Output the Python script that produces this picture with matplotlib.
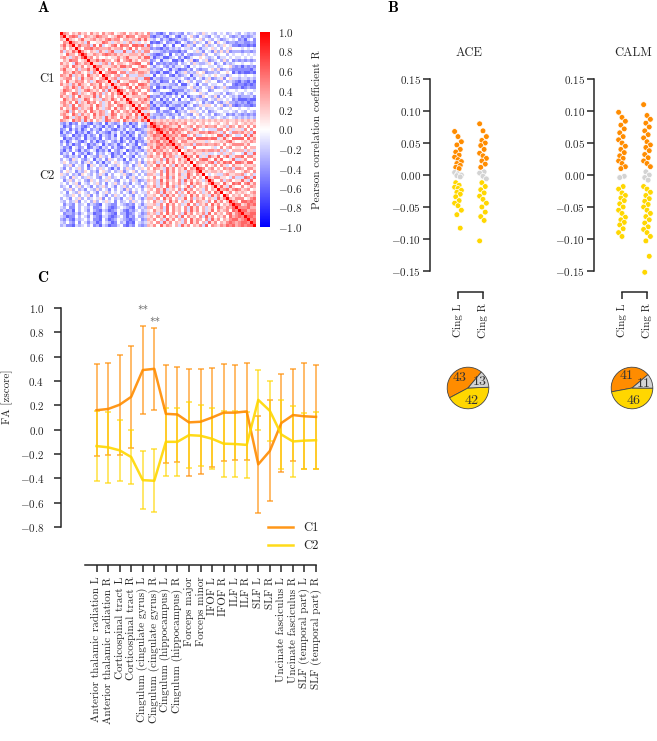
import numpy as np
import matplotlib

matplotlib.use("Agg")
import matplotlib.pyplot as plt
from matplotlib.lines import Line2D
from matplotlib.ticker import FuncFormatter

plt.rcParams["font.family"] = ["cmr10", "DejaVu Serif"]
plt.rcParams["mathtext.fontset"] = "cm"
plt.rcParams["axes.unicode_minus"] = False
plt.rcParams["font.size"] = 8

W, H = 657, 741
INK = "#262626"
ORANGE = "#ff8c00"
YELLOW = "#ffd700"
GREY = "#d3d3d3"

# ---- panel A: correlation matrix, lower triangle as quantised levels ----
LEVELS = [-0.6, -0.45, -0.3, -0.15, 0.0, 0.15, 0.3, 0.45, 0.6, 0.75]
N_C1 = 30
N_C2 = 35
C1_ROWS = [
    "7", "65", "476", "6857", "57465", "736586", "5486647", "67536758",
    "465877456", "7564386576", "56748657465", "685547366857",
    "4765867546375", "76583657486564", "567746385675467",
    "6485576746358765", "75637586547658465", "467586375647586736",
    "5876463578656473856", "67458736546857364758",
    "756374856658374657465", "4865763587465376586475",
    "67574836586746357486557", "576384765574863576478656",
    "7465873656847536748576465", "56837465748657634857467586",
    "675486375648576358746567485", "4785367586475638576475865736",
    "76548673857465387567486576586",
]
C2_BETWEEN = [
    "213021423103214032124130214325", "302142310241320312403213024216",
    "124031302413204231023142301235", "031240213024132103241302143126",
    "213402130312403213042130241325", "402131240321304213240312031246",
    "130243102413021342130241302135", "241302143021340312302413204216",
    "312043124013203241310243120345", "203142031243021304213402132136",
    "132404213024132430213042313425", "421323140432153240231432042336",
    "243153421340324153423041324245", "354232413524130324534213425136",
    "423514324053423143254324135425", "314243524134253420314253243546",
    "245341325423145324235134524235", "532423154324253142443521342426",
    "324153423534214352342413524345", "413524342153423534214342531236",
    "342435143243524143524231432425", "234143524314235243143524243136",
    "423524231432524314243152434245", "341432543243143524342431524336",
    "432354243514243142534243143425", "243143524234351424231435243136",
    "324235143425243534142342534245", "413214234132104321143212143135",
    "324114243241124310134321042326", "231204243142103201243102134235",
    "412213134230114321042201243126", "320114243142103310134202142235",
    "213103234241104201243210134126", "324214143132014320142301043235",
    "231103234241203201134102142126",
]
C2_WITHIN = [
    "", "8", "67", "758", "6876", "57687", "768576", "6578687", "75867566",
    "586756476", "6475867564", "75648576356", "465738564756",
    "5736485746575", "64857463857464", "476538574658476",
    "5647385746537658", "65374856473586475", "474658374653857464",
    "5638475647385746536", "46375846573648576457",
    "573648573645837465746", "6475835647385746537465",
    "45738564736485746357486", "564738574636485746538574",
    "6374857463584736574653857", "47536485746358476537485746",
    "563748574635847365748574657", "6457384756473857463574865768",
    "47563847564738574635847567487", "563748574638574657384756478578",
    "6475846573847564738574657486787", "57463857463748576473857465788678",
    "647385746537485746385746578767887", "5748576463857465738476576878678788",
]
CBAR_TICKS = [-1.0, -0.8, -0.6, -0.4, -0.2, 0.0, 0.2, 0.4, 0.6, 0.8, 1.0]

# ---- panel B: per-subject values, cingulum L / R ----
ACE_L = [0.068, 0.060, 0.052, 0.047, 0.040, 0.036, 0.031, 0.028, 0.024,
         0.021, 0.018, 0.015, 0.012, 0.010, 0.004, 0.002, 0.000, -0.001,
         -0.003, -0.012, -0.016, -0.019, -0.021, -0.024, -0.027, -0.030,
         -0.034, -0.040, -0.044, -0.048, -0.055, -0.062, -0.083]
ACE_R = [0.080, 0.069, 0.060, 0.054, 0.050, 0.046, 0.040, 0.034, 0.030,
         0.026, 0.022, 0.017, 0.012, 0.005, 0.003, -0.002, -0.006, -0.012,
         -0.018, -0.023, -0.028, -0.033, -0.038, -0.044, -0.050, -0.058,
         -0.065, -0.071, -0.103]
CALM_L = [0.098, 0.090, 0.084, 0.078, 0.072, 0.066, 0.060, 0.055, 0.050,
          0.045, 0.040, 0.035, 0.030, 0.026, 0.022, 0.018, 0.013, 0.010,
          -0.002, -0.004, -0.018, -0.022, -0.028, -0.032, -0.036, -0.040,
          -0.045, -0.050, -0.055, -0.060, -0.066, -0.070, -0.074, -0.078,
          -0.084, -0.090, -0.096]
CALM_R = [0.110, 0.093, 0.087, 0.081, 0.075, 0.069, 0.063, 0.058, 0.052,
          0.047, 0.043, 0.038, 0.032, 0.027, 0.022, 0.018, 0.013, 0.005,
          0.000, -0.004, -0.008, -0.018, -0.022, -0.027, -0.032, -0.037,
          -0.041, -0.046, -0.050, -0.055, -0.060, -0.065, -0.070, -0.075,
          -0.081, -0.085, -0.090, -0.096, -0.103, -0.127, -0.152]
STRIP_LABELS = ["Cing L", "Cing R"]
STRIP_TICKS = [-0.15, -0.10, -0.05, 0.0, 0.05, 0.10, 0.15]
ACE_PIE = [43, 42, 13]   # C1, C2, neither
CALM_PIE = [41, 46, 11]

# ---- panel C: tract FA profiles ----
TRACTS = [
    "Anterior thalamic radiation L", "Anterior thalamic radiation R",
    "Corticospinal tract L", "Corticospinal tract R",
    "Cingulum (cingulate gyrus) L", "Cingulum (cingulate gyrus) R",
    "Cingulum (hippocampus) L", "Cingulum (hippocampus) R",
    "Forceps major", "Forceps minor", "IFOF L", "IFOF R", "ILF L", "ILF R",
    "SLF L", "SLF R", "Uncinate fasciculus L", "Uncinate fasciculus R",
    "SLF (temporal part) L", "SLF (temporal part) R",
]
C1_MEAN = [0.16, 0.17, 0.205, 0.27, 0.49, 0.50, 0.13, 0.125, 0.06, 0.065,
           0.10, 0.14, 0.14, 0.15, -0.285, -0.175, 0.055, 0.12, 0.11, 0.105]
C1_ERR = [0.38, 0.375, 0.41, 0.42, 0.36, 0.335, 0.40, 0.39, 0.44, 0.43,
          0.41, 0.40, 0.39, 0.40, 0.40, 0.415, 0.405, 0.38, 0.435, 0.43]
C2_MEAN = [-0.135, -0.145, -0.17, -0.225, -0.415, -0.42, -0.10, -0.10,
           -0.045, -0.05, -0.075, -0.115, -0.118, -0.125, 0.245, 0.155,
           -0.04, -0.097, -0.09, -0.087]
C2_ERR = [0.285, 0.29, 0.25, 0.225, 0.24, 0.26, 0.28, 0.28, 0.27, 0.25,
          0.25, 0.27, 0.27, 0.27, 0.245, 0.245, 0.28, 0.29, 0.23, 0.235]
STARRED = [4, 5]
C_TICKS = [-0.8, -0.6, -0.4, -0.2, 0.0, 0.2, 0.4, 0.6, 0.8, 1.0]


def px_axes(fig, left, top, right, bottom):
    return fig.add_axes([left / W, 1 - bottom / H, (right - left) / W, (bottom - top) / H])


def fmt(decimals):
    def f(v, pos=None):
        v = round(v, decimals) + 0.0
        return f"${v:.{decimals}f}$"
    return FuncFormatter(f)


def despine(ax, left_out, bottom_out, xbounds, ybounds):
    for side in ("top", "right"):
        ax.spines[side].set_visible(False)
    for side in ("left", "bottom"):
        ax.spines[side].set_color(INK)
        ax.spines[side].set_linewidth(1.1)
    ax.spines["left"].set_position(("outward", left_out))
    ax.spines["bottom"].set_position(("outward", bottom_out))
    ax.spines["left"].set_bounds(*ybounds)
    ax.spines["bottom"].set_bounds(*xbounds)
    ax.patch.set_visible(False)


def build_matrix():
    rows = C1_ROWS + [b + w for b, w in zip(C2_BETWEEN, C2_WITHIN)]
    n = N_C1 + N_C2
    mat = np.eye(n)
    for i in range(1, n):
        codes = rows[i - 1][:i].ljust(i, "4")
        for j, ch in enumerate(codes):
            mat[i, j] = mat[j, i] = LEVELS[int(ch)]
    return mat


def draw_heatmap(fig):
    ax = px_axes(fig, 60, 32, 256, 227)
    cax = px_axes(fig, 260, 32, 270, 227)
    im = ax.imshow(build_matrix(), cmap="bwr", vmin=-1, vmax=1,
                   interpolation="nearest", aspect="auto")
    for s in ax.spines.values():
        s.set_visible(False)
    ax.set_xticks([])
    ax.set_yticks([(N_C1 - 1) / 2, N_C1 + (N_C2 - 1) / 2])
    ax.set_yticklabels(["C1", "C2"], fontsize=9, color=INK)
    ax.tick_params(axis="y", length=0, pad=4)
    cb = fig.colorbar(im, cax=cax, ticks=CBAR_TICKS)
    cb.outline.set_visible(False)
    cax.yaxis.set_major_formatter(fmt(1))
    cax.tick_params(length=0, pad=6, labelsize=8, labelcolor=INK)
    cb.set_label("Pearson correlation coefficient R", fontsize=8, color=INK, labelpad=7)
    fig.text(43 / W, 1 - 8 / H, "A", family="cmb10", fontsize=11, ha="center", va="center")


def draw_strip(fig, left, title, cols, counts, start):
    ax = px_axes(fig, left, 79, left + 47.5, 271)
    despine(ax, 11.2, 15, (0, 1), (-0.15, 0.15))
    for k, vals in enumerate(cols):
        vals = np.asarray(vals)
        spread = ((np.arange(len(vals)) * 3) % 7 - 3) * 0.045
        colors = [GREY if abs(v) < 0.009 else (ORANGE if v > 0 else YELLOW) for v in vals]
        ax.scatter(k + spread, vals, s=17, c=colors, edgecolors="white",
                   linewidths=0.5, zorder=3, clip_on=False)
    ax.set_xlim(-0.5, 1.4)
    ax.set_ylim(-0.15, 0.15)
    ax.set_yticks(STRIP_TICKS)
    ax.yaxis.set_major_formatter(fmt(2))
    ax.set_xticks([0, 1])
    ax.set_xticklabels(STRIP_LABELS)
    ax.tick_params(length=5, width=1.1, color=INK, labelcolor=INK, labelsize=8)
    ax.tick_params(axis="x", labelrotation=90)
    ax.tick_params(axis="y", pad=1.5)
    fig.text((left + 23.5) / W, 1 - 53 / H, title, fontsize=9, ha="center", va="center", color=INK)

    cx = left + 22.5
    pax = px_axes(fig, cx - 26, 362, cx + 26, 414)
    total = sum(counts)
    pax.pie(counts, colors=[ORANGE, YELLOW, GREY], startangle=start,
            counterclock=True, wedgeprops=dict(edgecolor="#444444", linewidth=0.6),
            autopct=lambda p: f"{round(p * total / 100)}", pctdistance=0.62,
            textprops=dict(fontsize=10, color="#333333"))
    pax.set_aspect("equal")


def draw_profiles(fig):
    ax = px_axes(fig, 85, 308, 321.8, 527)
    despine(ax, 17.3, 27.4, (-1, 19), (-0.8, 1.0))
    x = np.arange(len(TRACTS))
    for mean, err, color, label in [(C1_MEAN, C1_ERR, ORANGE, "C1"),
                                    (C2_MEAN, C2_ERR, YELLOW, "C2")]:
        ax.errorbar(x, mean, yerr=err, fmt="none", ecolor=color, alpha=0.75,
                    elinewidth=1.1, capsize=2.5, capthick=1.1, zorder=2)
        ax.plot(x, mean, color=color, lw=1.8, alpha=0.9, zorder=3, label=label)
    for k, idx in enumerate(STARRED):
        ax.text(idx, 0.975 - 0.1 * k, "**", ha="center", va="center",
                fontsize=8, color="#555555")
    ax.set_xlim(-1, 19.5)
    ax.set_ylim(-0.8, 1.0)
    ax.set_yticks(C_TICKS)
    ax.yaxis.set_major_formatter(fmt(1))
    ax.set_xticks(x)
    ax.set_xticklabels(TRACTS)
    ax.tick_params(length=5, width=1.1, color=INK, labelcolor=INK, labelsize=8)
    ax.tick_params(axis="x", labelrotation=90)
    ax.tick_params(axis="y", pad=7)
    handles = [Line2D([], [], color=ORANGE, lw=1.8, alpha=0.9),
               Line2D([], [], color=YELLOW, lw=1.8, alpha=0.9)]
    ax.legend(handles, ["C1", "C2"], loc="center left", frameon=False,
              bbox_to_anchor=(268 / W, 1 - 537 / H), bbox_transform=fig.transFigure,
              fontsize=9, handlelength=2.0, borderpad=0, borderaxespad=0,
              labelspacing=0.45, labelcolor=INK)
    fig.text(7 / W, 1 - 397 / H, "FA [zscore]", rotation=90, fontsize=8,
             ha="center", va="center", color=INK)
    fig.text(43 / W, 1 - 278 / H, "C", family="cmb10", fontsize=11, ha="center", va="center")


def main():
    fig = plt.figure(figsize=(W / 100, H / 100), dpi=100)
    draw_heatmap(fig)
    draw_strip(fig, 445.5, "ACE", [ACE_L, ACE_R], ACE_PIE, 50)
    draw_strip(fig, 609.5, "CALM", [CALM_L, CALM_R], CALM_PIE, 40)
    fig.text(393 / W, 1 - 8 / H, "B", family="cmb10", fontsize=11, ha="center", va="center")
    draw_profiles(fig)
    fig.savefig("out.png", dpi=100)
    plt.close(fig)


if __name__ == "__main__":
    main()
